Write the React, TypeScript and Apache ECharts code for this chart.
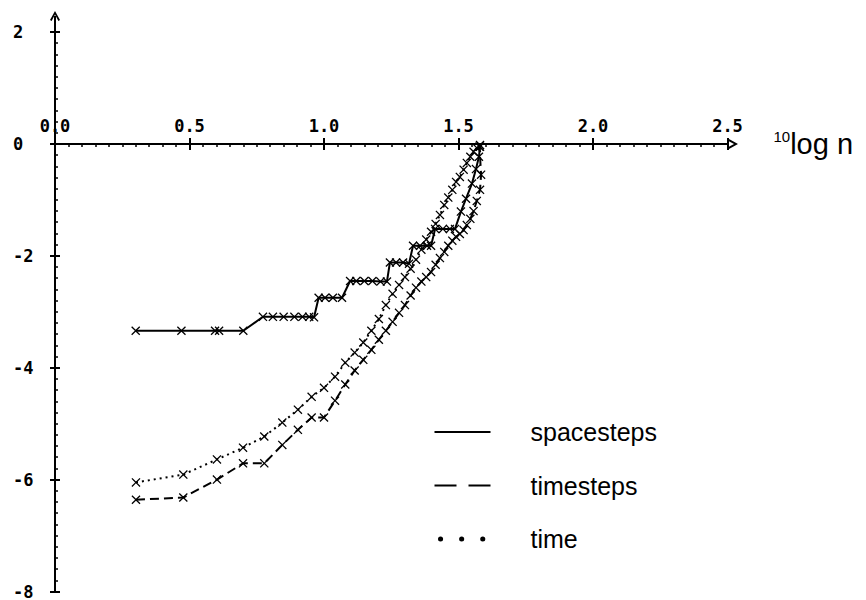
import React, { useEffect, useRef } from 'react';
import * as echarts from 'echarts';

// x positions (10log n) of the time markers
const logN = [0.301, 0.477, 0.602, 0.699, 0.778, 0.845, 0.903, 0.954, 1.0, 1.041, 1.079, 1.114, 1.146, 1.176, 1.204, 1.23, 1.255, 1.279, 1.301, 1.322, 1.342, 1.362, 1.38, 1.398, 1.415, 1.431, 1.447, 1.462, 1.477, 1.491, 1.505, 1.519, 1.531, 1.544, 1.556, 1.568, 1.58];

const timeValues = [-6.05, -5.91, -5.64, -5.43, -5.23, -4.98, -4.75, -4.52, -4.36, -4.16, -3.91, -3.73, -3.55, -3.34, -3.13, -2.88, -2.68, -2.52, -2.38, -2.23, -2.07, -1.89, -1.71, -1.57, -1.43, -1.27, -1.09, -0.96, -0.82, -0.68, -0.59, -0.46, -0.34, -0.23, -0.14, -0.07, -0.02];

// timesteps: same n positions plus the two last read points near the top
const timestepsX = [0.301, 0.477, 0.602, 0.699, 0.778, 0.845, 0.903, 0.954, 1.0, 1.041, 1.079, 1.114, 1.146, 1.176, 1.204, 1.23, 1.255, 1.279, 1.301, 1.322, 1.342, 1.362, 1.38, 1.398, 1.415, 1.431, 1.447, 1.462, 1.477, 1.491, 1.505, 1.519, 1.531, 1.544, 1.556, 1.568, 1.58, 1.584, 1.578];
const timestepsValues = [-6.36, -6.32, -6.0, -5.71, -5.71, -5.38, -5.11, -4.89, -4.89, -4.59, -4.3, -4.05, -3.86, -3.68, -3.5, -3.34, -3.18, -3.02, -2.88, -2.71, -2.57, -2.46, -2.38, -2.29, -2.16, -2.04, -1.93, -1.82, -1.73, -1.66, -1.61, -1.54, -1.45, -1.34, -1.2, -1.02, -0.82, -0.55, -0.05];

// spacesteps staircase
const spaceX = [0.30, 0.47, 0.595, 0.61, 0.70, 0.773, 0.81, 0.85, 0.89, 0.92, 0.945, 0.963, 0.98, 1.004, 1.033, 1.067, 1.097, 1.12, 1.15, 1.18, 1.21, 1.234, 1.245, 1.268, 1.294, 1.316, 1.331, 1.357, 1.383, 1.398, 1.413, 1.442, 1.468, 1.487, 1.509, 1.528, 1.55, 1.565, 1.576, 1.58];
const spaceY = [-3.34, -3.34, -3.34, -3.34, -3.34, -3.09, -3.09, -3.09, -3.09, -3.09, -3.09, -3.1, -2.75, -2.75, -2.75, -2.75, -2.45, -2.45, -2.45, -2.45, -2.46, -2.46, -2.12, -2.12, -2.12, -2.14, -1.82, -1.82, -1.82, -1.82, -1.52, -1.52, -1.52, -1.52, -1.21, -0.98, -0.71, -0.45, -0.23, -0.05];

const seriesNames = ['spacesteps', 'timesteps', 'time'];

const xMin = 0;
const xMax = 2.5;
const xStep = 0.5;
const yMin = -8;
const yMax = 2;
const yStep = 2;

const CROSS = 'path://M1,0 L5,4 L9,0 L10,1 L6,5 L10,9 L9,10 L5,6 L1,10 L0,9 L4,5 L0,1 Z';
const ARROW = 'path://M5,0 L10,9 L8.4,10 L5,3.6 L1.6,10 L0,9 Z';
const PIX = 'DejaVu Sans Mono';
const SANS = 'Liberation Sans';

export default function App() {
  const ref = useRef<HTMLDivElement>(null);
  useEffect(() => {
    if (!ref.current) return;
    const chart = echarts.init(ref.current, null, { renderer: 'svg' });
    const black = '#000';
    const pair = (xs: number[], ys: number[]) => xs.map((x, i) => [x, ys[i]]);
    const gridTop = 32;
    const gridBottom = 8;
    const plotH = 600 - gridTop - gridBottom;
    // x axis sits at y = 0
    const xAxisOffset = -plotH * (yMax / (yMax - yMin));
    chart.setOption({
      animation: false,
      backgroundColor: '#fff',
      grid: { left: 55, right: 138.5, top: gridTop, bottom: gridBottom, containLabel: false },
      legend: {
        orient: 'vertical',
        left: 427,
        top: 413,
        itemWidth: 56,
        itemHeight: 14,
        itemGap: 25.5,
        selectedMode: false,
        itemStyle: { opacity: 0 },
        textStyle: { fontFamily: SANS, fontSize: 25, color: black, lineHeight: 28, padding: [0, 0, 0, 35] },
        data: [
          { name: seriesNames[0], lineStyle: { type: 'solid', width: 2, color: black } },
          { name: seriesNames[1], lineStyle: { type: [22, 12], width: 2, color: black } },
          { name: seriesNames[2], lineStyle: { type: [0.1, 21], width: 5, cap: 'round', dashOffset: -6, color: black } },
        ],
      },
      xAxis: [
        {
          type: 'value',
          min: xMin,
          max: xMax,
          interval: xStep,
          position: 'top',
          offset: xAxisOffset,
          name: '{s|10}{m|log n}',
          nameLocation: 'end',
          nameGap: 46,
          nameTextStyle: {
            rich: {
              s: { fontFamily: SANS, fontSize: 15, color: black, verticalAlign: 'top', lineHeight: 30 },
              m: { fontFamily: SANS, fontSize: 29, color: black, lineHeight: 30 },
            },
          },
          axisLine: {
            onZero: false,
            lineStyle: { color: black, width: 2 },
            symbol: ['none', ARROW],
            symbolSize: [11, 13],
            symbolOffset: [0, 5],
          },
          axisTick: { show: true, inside: true, length: 6, lineStyle: { color: black, width: 2 } },
          minorTick: { show: true, splitNumber: 10, length: 3, lineStyle: { color: black, width: 1.5 } },
          axisLabel: {
            margin: 10,
            fontFamily: PIX,
            fontWeight: 'bold',
            fontSize: 17,
            color: black,
            formatter: (v: number) => v.toFixed(1),
          },
          splitLine: { show: false },
        },
        {
          type: 'value',
          min: xMin,
          max: xMax,
          interval: xStep,
          position: 'top',
          offset: xAxisOffset,
          axisLine: { show: false, onZero: false },
          axisTick: { show: true, inside: false, length: 6, lineStyle: { color: black, width: 2 } },
          axisLabel: { show: false },
          splitLine: { show: false },
        },
      ],
      yAxis: [
        {
          type: 'value',
          min: yMin,
          max: yMax,
          interval: yStep,
          position: 'left',
          axisLine: {
            onZero: false,
            lineStyle: { color: black, width: 2 },
            symbol: ['none', ARROW],
            symbolSize: [12, 10],
            symbolOffset: [0, 16],
          },
          axisTick: { show: true, inside: true, length: 5, lineStyle: { color: black, width: 2 } },
          minorTick: { show: true, splitNumber: 10, length: 3, lineStyle: { color: black, width: 1.5 } },
          axisLabel: {
            align: 'left',
            margin: 42,
            fontFamily: PIX,
            fontWeight: 'bold',
            fontSize: 17,
            color: black,
            formatter: (v: number) => String(v),
          },
          splitLine: { show: false },
        },
        {
          type: 'value',
          min: yMin,
          max: yMax,
          interval: yStep,
          position: 'left',
          axisLine: { show: false, onZero: false },
          axisTick: { show: true, inside: false, length: 5, lineStyle: { color: black, width: 2 } },
          axisLabel: { show: false },
          splitLine: { show: false },
        },
      ],
      series: [
        {
          name: seriesNames[0],
          type: 'line',
          data: pair(spaceX, spaceY),
          symbol: CROSS,
          symbolSize: 9,
          itemStyle: { color: black },
          lineStyle: { color: black, width: 2, type: 'solid' },
        },
        {
          name: seriesNames[1],
          type: 'line',
          data: pair(timestepsX, timestepsValues),
          symbol: CROSS,
          symbolSize: 9,
          itemStyle: { color: black },
          lineStyle: { color: black, width: 2, type: [9, 5] },
        },
        {
          name: seriesNames[2],
          type: 'line',
          data: pair(logN, timeValues),
          symbol: CROSS,
          symbolSize: 9,
          itemStyle: { color: black },
          lineStyle: { color: black, width: 2, type: [2, 4] },
        },
      ],
    });
    const yTop = chart.convertToPixel({ yAxisIndex: 0 }, yMax) as number;
    const xLeft = chart.convertToPixel({ xAxisIndex: 0 }, xMin) as number;
    chart.setOption({
      graphic: [
        {
          type: 'line',
          shape: { x1: xLeft, y1: yTop, x2: xLeft, y2: yTop - 16 },
          style: { stroke: black, lineWidth: 2 },
        },
      ],
    });
    return () => chart.dispose();
  }, []);
  return <div ref={ref} style={{ position: 'fixed', left: 0, top: 0, width: 866, height: 600 }} />;
}
